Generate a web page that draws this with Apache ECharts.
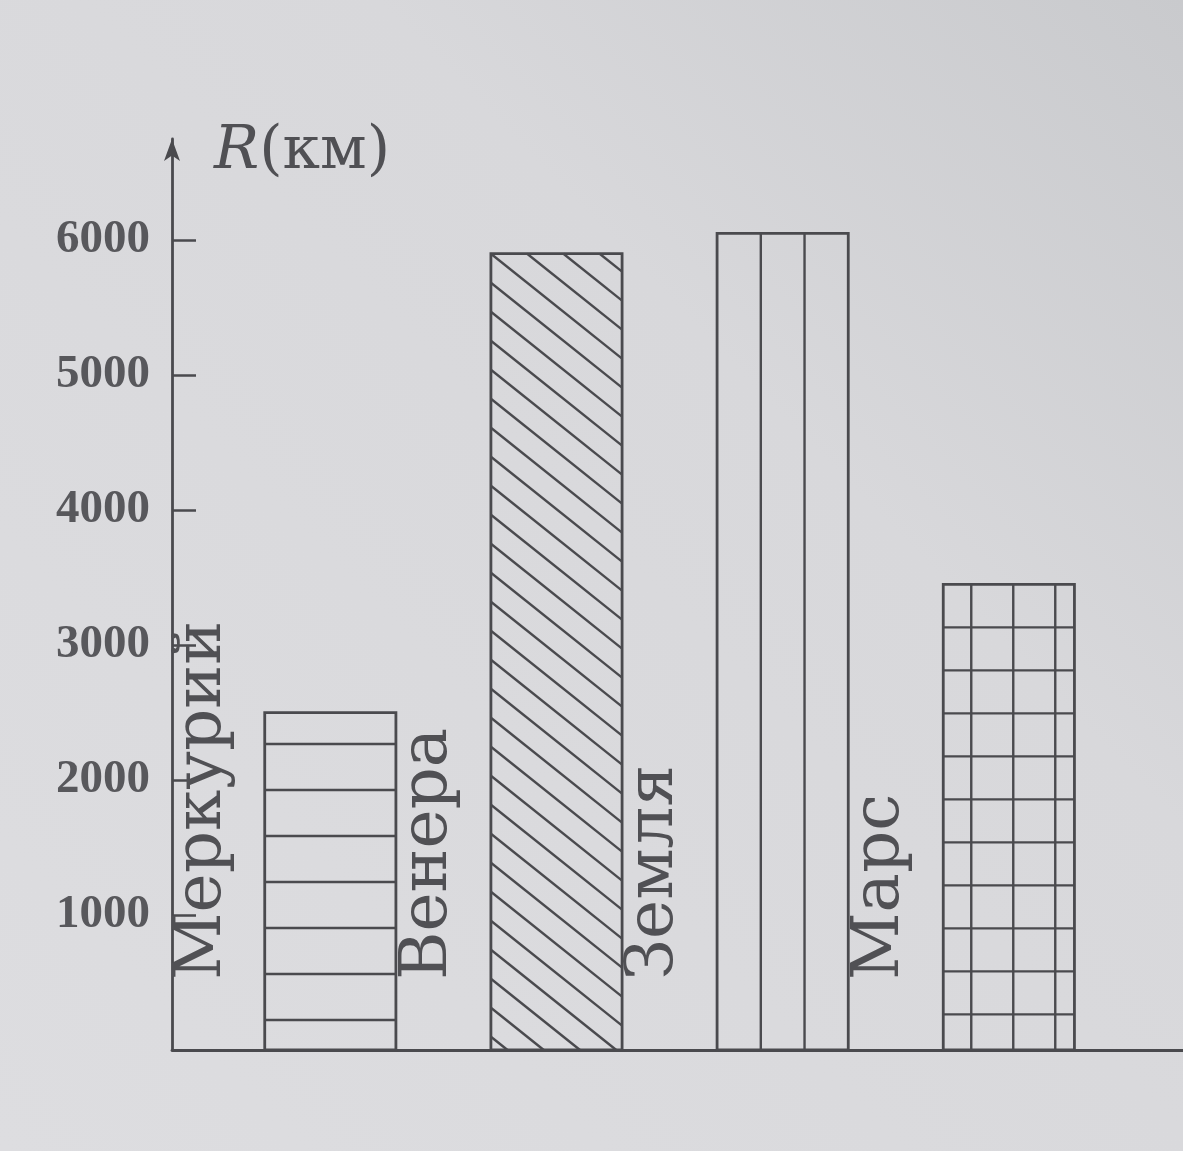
<!DOCTYPE html>
<html><head><meta charset="utf-8">
<script src="https://cdn.jsdelivr.net/npm/echarts@6/dist/echarts.min.js"></script>
<style>html,body{margin:0;padding:0;background:#d9d9dc}#c{width:1183px;height:1151px}</style>
</head><body><div id="c"></div>
<script>
// ---- data ----
const planets = ['Меркурий', 'Венера', 'Земля', 'Марс'];
const radii = [2500, 5900, 6050, 3450];
const patterns = ['hlines', 'diag', 'vlines', 'grid'];
const yTickValues = [1000, 2000, 3000, 4000, 5000, 6000];
const axisName = '{i|R}(км)';

const INK = '#4a4a4e';
const TEXT = '#505054';

function renderItem(params, api) {
  const idx = api.value(0), val = api.value(1);
  const pat = patterns[params.dataIndex];
  const top = api.coord([idx, val]);
  const base = api.coord([idx, 0]);
  const w = api.size([1, 0])[0] * 0.58;
  const x1 = top[0] - w / 2, x2 = top[0] + w / 2, y1 = top[1], y2 = base[1];
  const children = [];
  const ls = { stroke: INK, lineWidth: 2.4 };
  const line = (ax, ay, bx, by) => children.push({ type: 'line', shape: { x1: ax, y1: ay, x2: bx, y2: by }, style: ls });
  if (pat === 'hlines') {
    for (let y = y2 - 30; y > y1 + 8; y -= 46) line(x1, y, x2, y);
  } else if (pat === 'vlines') {
    line(x1 + w / 3, y1, x1 + w / 3, y2);
    line(x1 + 2 * w / 3, y1, x1 + 2 * w / 3, y2);
  } else if (pat === 'grid') {
    for (let x = x1 + 28; x < x2 - 4; x += 42) line(x, y1, x, y2);
    for (let y = y1 + 43; y < y2 - 4; y += 43) line(x1, y, x2, y);
  } else if (pat === 'diag') {
    const k = 0.8, s = 29;
    const c0 = y1 - k * x1;
    for (let n = -Math.ceil((k * w) / s) - 1; n < Math.ceil((y2 - y1) / s) + 1; n++) {
      const c = c0 + n * s;
      const xa = Math.max(x1, (y1 - c) / k);
      const xb = Math.min(x2, (y2 - c) / k);
      if (xb - xa > 1) line(xa, k * xa + c, xb, k * xb + c);
    }
  }
  children.push({ type: 'rect', shape: { x: x1, y: y1, width: w, height: y2 - y1 }, style: { fill: 'none', stroke: INK, lineWidth: 2.8 } });
  children.push({
    type: 'text', x: x1 - 62, y: y2 - 70, rotation: Math.PI / 2,
    style: { text: planets[params.dataIndex], fontSize: 66, fontFamily: '"DejaVu Serif"', fill: TEXT, align: 'left', verticalAlign: 'middle' }
  });
  return { type: 'group', children };
}

const chart = echarts.init(document.getElementById('c'));
chart.setOption({
  animation: false,
  backgroundColor: { type: 'linear', x: 0, y: 1, x2: 1, y2: 0, colorStops: [{ offset: 0, color: '#dddde0' }, { offset: 0.65, color: '#d8d8db' }, { offset: 1, color: '#c9cacd' }] },
  grid: { left: 172, right: 0, top: 139, bottom: 101 },
  xAxis: {
    type: 'value', min: 0.3, max: 4.77,
    axisLine: { show: true, onZero: false, lineStyle: { color: INK, width: 2.8 } },
    axisTick: { show: false }, axisLabel: { show: false }, splitLine: { show: false }
  },
  yAxis: {
    type: 'value', min: 0, max: 6750, interval: 1000,
    name: axisName, nameLocation: 'end', nameGap: -13,
    nameTextStyle: {
      fontFamily: '"DejaVu Serif"', fontSize: 60, color: TEXT, align: 'left', verticalAlign: 'middle', padding: [0, 0, 0, 42],
      rich: { i: { fontFamily: '"DejaVu Serif"', fontStyle: 'italic', fontSize: 60, color: TEXT } }
    },
    axisLine: { show: true, symbol: ['none', 'arrow'], symbolSize: [12, 22], lineStyle: { color: INK, width: 2.8 } },
    axisTick: { show: true, inside: true, length: 24, customValues: yTickValues, lineStyle: { color: INK, width: 2.5 } },
    axisLabel: { customValues: yTickValues, formatter: v => String(v), fontFamily: '"Liberation Serif"', fontWeight: 'bold', fontSize: 47, color: '#58585c', margin: 22 },
    splitLine: { show: false }
  },
  series: [{
    type: 'custom',
    renderItem: renderItem,
    data: radii.map((r, i) => [i + 1, r]),
    encode: { x: 0, y: 1 },
    clip: false
  }]
});
</script>
</body></html>
